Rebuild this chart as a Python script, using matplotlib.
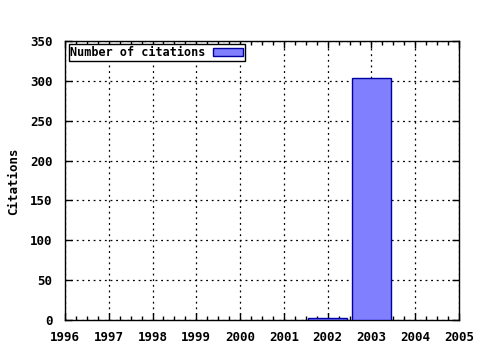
import matplotlib
matplotlib.use("Agg")
import matplotlib.pyplot as plt
from matplotlib.ticker import MultipleLocator

years = [2002, 2003]
citations = [3, 304]
xTicks = list(range(1996, 2006))
yTicks = list(range(0, 351, 50))

plt.rcParams['font.family'] = 'DejaVu Sans Mono'
plt.rcParams['font.weight'] = 'bold'
plt.rcParams['font.size'] = 9

fig = plt.figure(figsize=(4.8, 3.5), dpi=100)
ax = fig.add_axes([0.1354, 0.0857, 0.8208, 0.7973])

ax.bar(years, citations, width=0.9, color='#8080ff', edgecolor='#0000a0',
       linewidth=1, label='Number of citations', zorder=3)

ax.set_xlim(1996, 2005)
ax.set_ylim(0, 350)
ax.set_xticks(xTicks)
ax.set_yticks(yTicks)
ax.xaxis.set_minor_locator(MultipleLocator(0.25))
ax.tick_params(axis='both', which='both', direction='in', top=True, right=True,
               labelsize=9, width=1)
ax.tick_params(axis='x', pad=8)
ax.tick_params(axis='y', pad=9)
ax.tick_params(which='major', length=5)
ax.tick_params(which='minor', length=3)
ax.grid(True, which='major', color='black', linestyle=(0, (1.5, 3)), linewidth=0.9)
for spine in ax.spines.values():
    spine.set_linewidth(1)

# y label placed by hand so it is not clipped
fig.text(14 / 480, 1 - 181 / 350, 'Citations', rotation=90, ha='center', va='center',
         fontsize=9, fontweight='bold')

leg = ax.legend(loc='upper left', markerfirst=False, fancybox=False,
                edgecolor='black', framealpha=1, borderpad=0.15,
                handlelength=2.6, handleheight=0.6, borderaxespad=0.3,
                handletextpad=0.6, fontsize=8.5)
leg.get_frame().set_linewidth(1)

fig.savefig('out.png', dpi=100)
